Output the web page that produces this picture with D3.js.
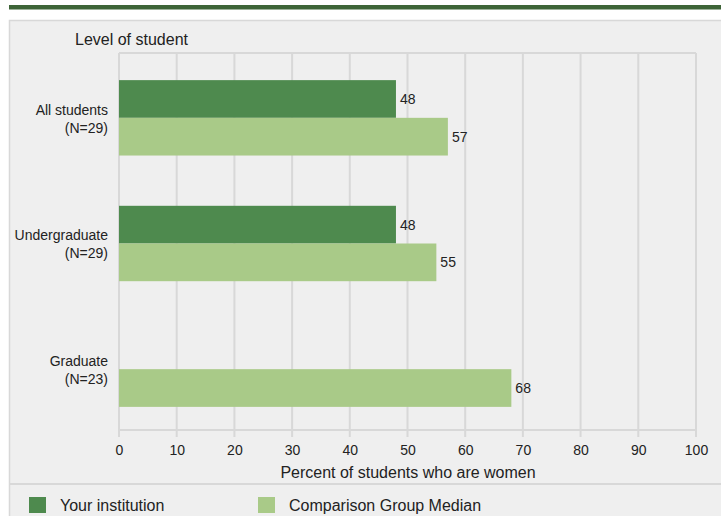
<!DOCTYPE html>
<html><head><meta charset="utf-8">
<script src="https://cdn.jsdelivr.net/npm/d3@7/dist/d3.min.js"></script>
<style>body{margin:0;background:#fff;}svg{display:block;font-family:"Liberation Sans",Arial,sans-serif;}</style>
</head><body>
<svg id="c" width="721" height="516"></svg>
<script>
const categories = ["All students|(N=29)", "Undergraduate|(N=29)", "Graduate|(N=23)"];
const seriesNames = ["Your institution", "Comparison Group Median"];
const yourInstitution = [48, 48, null];
const comparisonMedian = [57, 55, 68];
const xTicks = [0,10,20,30,40,50,60,70,80,90,100];
const colors = ["#4e8a4e", "#a9ca88"];

const svg = d3.select("#c");
svg.append("rect").attr("x",9).attr("y",5).attr("width",712).attr("height",4.5).attr("fill","#3d6437");
svg.append("rect").attr("x",9.5).attr("y",20.5).attr("width",720).attr("height",500).attr("fill","#efefef").attr("stroke","#d8d8d8").attr("stroke-width",1.5);
svg.append("line").attr("x1",9).attr("x2",721).attr("y1",484).attr("y2",484).attr("stroke","#d8d8d8").attr("stroke-width",2);

const x = d3.scaleLinear().domain([0,100]).range([119,696]);
const y = d3.scaleBand().domain(categories).range([55,432]).paddingInner(0.4).paddingOuter(0.2);
const ys = d3.scaleBand().domain(seriesNames).range([0,y.bandwidth()]);

const g = svg.append("g");
g.append("line").attr("x1",x(0)).attr("x2",x(100)).attr("y1",53).attr("y2",53).attr("stroke","#d8d8d8").attr("stroke-width",2);
g.selectAll(".grid").data(xTicks).join("line")
  .attr("x1",d=>x(d)).attr("x2",d=>x(d)).attr("y1",53).attr("y2",437)
  .attr("stroke","#d8d8d8").attr("stroke-width",2);
g.append("line").attr("x1",x(0)).attr("x2",x(100)).attr("y1",430).attr("y2",430).attr("stroke","#d8d8d8").attr("stroke-width",2);

const axis = d3.axisBottom(x).tickValues(xTicks).tickSize(0).tickPadding(0);
const ax = svg.append("g").attr("transform","translate(0,445)").call(axis);
ax.select(".domain").remove();
ax.selectAll("text").attr("font-size",14).attr("fill","#222").attr("font-family","Liberation Sans, Arial, sans-serif");

svg.append("text").attr("x",408).attr("y",478).attr("text-anchor","middle").attr("font-size",16).attr("fill","#222").text("Percent of students who are women");
svg.append("text").attr("x",75).attr("y",45).attr("font-size",16).attr("fill","#222").text("Level of student");

const data = categories.map((c,i)=>({c, vals:[yourInstitution[i], comparisonMedian[i]]}));
data.forEach(d=>{
  d.vals.forEach((v,j)=>{
    if(v==null) return;
    const yy = y(d.c)+ys(seriesNames[j]);
    svg.append("rect").attr("x",x(0)).attr("y",yy).attr("width",x(v)-x(0)).attr("height",ys.bandwidth()).attr("fill",colors[j]);
    svg.append("text").attr("x",x(v)+4).attr("y",yy+ys.bandwidth()/2).attr("dy","0.35em").attr("font-size",14).attr("fill","#222").text(v);
  });
  const parts = d.c.split("|");
  const cy = y(d.c)+y.bandwidth()/2;
  parts.forEach((p,k)=>{
    svg.append("text").attr("x",108).attr("y",cy-8+k*18).attr("dy","0.35em").attr("text-anchor","end").attr("font-size",14).attr("fill","#222").text(p);
  });
});

const legX = [29, 258];
seriesNames.forEach((s,i)=>{
  svg.append("rect").attr("x",legX[i]).attr("y",497).attr("width",17).attr("height",16).attr("fill",colors[i]);
  svg.append("text").attr("x",legX[i]+31).attr("y",505).attr("dy","0.35em").attr("font-size",16).attr("fill","#222").text(s);
});
</script>
</body></html>
